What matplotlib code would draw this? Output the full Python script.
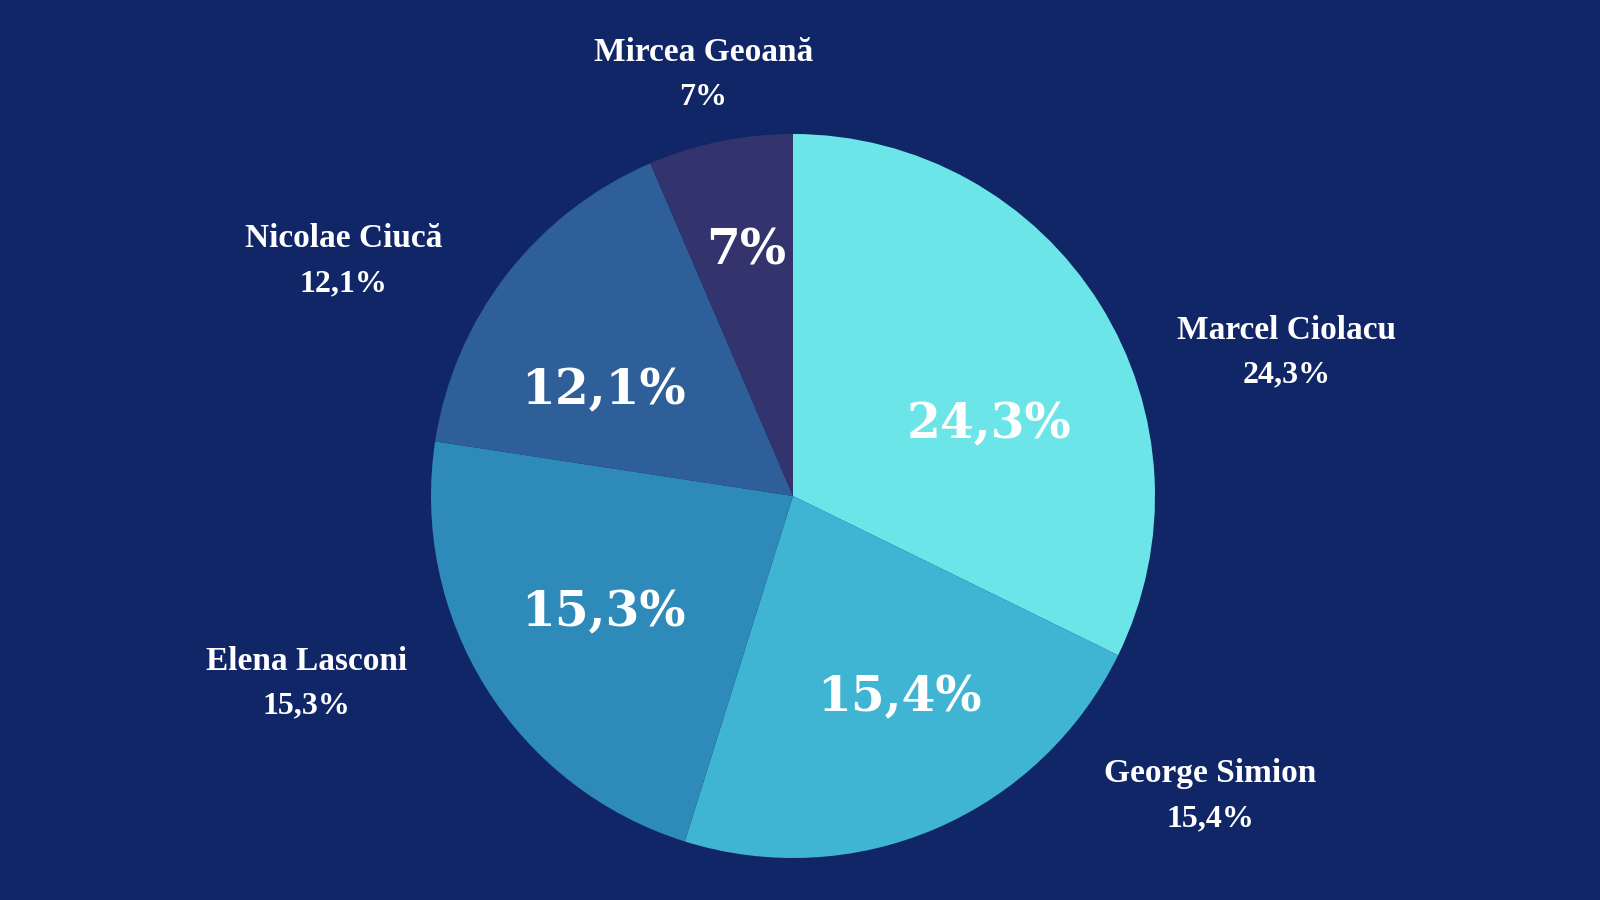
import matplotlib.pyplot as plt
import numpy as np

# candidates, clockwise from 12 o'clock
names = ["Marcel Ciolacu", "George Simion", "Elena Lasconi", "Nicolae Ciucă", "Mircea Geoană"]
pct_labels = ["24,3%", "15,4%", "15,3%", "12,1%", "7%"]
# slice sizes as drawn in the reference (share of the circle, %)
shares = [32.25, 22.58, 22.58, 16.14, 6.45]
colors = ["#6be5e8", "#40b5d3", "#2e8ab8", "#2f5f98", "#33346e"]

BG = "#112667"

# label placement (radius in pie units, angle in degrees)
inner_pos = [(0.58, 21.0), (0.62, -61.8), (0.61, -149.3), (0.605, 150.0), (0.70, 100.7)]
outer_pos = [(1.42, 16.2), (1.42, -35.7), (1.44, -158.9), (1.40, 152.4), (1.19, 102.0)]

fig = plt.figure(figsize=(16, 9), dpi=100, facecolor=BG)
ax = fig.add_axes([0, 0, 1, 1])
ax.set_facecolor(BG)

wedges, _ = ax.pie(
    shares,
    colors=colors,
    startangle=90,
    counterclock=False,
    radius=1.0,
    wedgeprops=dict(linewidth=0),
)

# pie() resets the limits, so place the circle afterwards
R_PX = 362.0
cx, cy = 793.0, 496.0
ax.set_aspect("auto")
ax.set_xlim(-cx / R_PX, (1600 - cx) / R_PX)
ax.set_ylim(-(900 - cy) / R_PX, cy / R_PX)
ax.axis("off")


def polar(r, ang):
    a = np.deg2rad(ang)
    return r * np.cos(a), r * np.sin(a)


# percentages inside the slices
for txt, (r, ang) in zip(pct_labels, inner_pos):
    x, y = polar(r, ang)
    ax.text(x, y - 0.012, txt, ha="center", va="center", color="white",
            fontsize=35, fontweight="bold", family="DejaVu Serif")

# names + values outside
for name, txt, (r, ang) in zip(names, pct_labels, outer_pos):
    x, y = polar(r, ang)
    ax.text(x, y + 0.062, name, ha="center", va="center", color="white",
            fontsize=24, fontweight="bold", family="Liberation Serif")
    ax.text(x, y - 0.062, txt, ha="center", va="center", color="white",
            fontsize=23, fontweight="bold", family="Liberation Serif")

fig.savefig("out.png", dpi=100, facecolor=BG)
